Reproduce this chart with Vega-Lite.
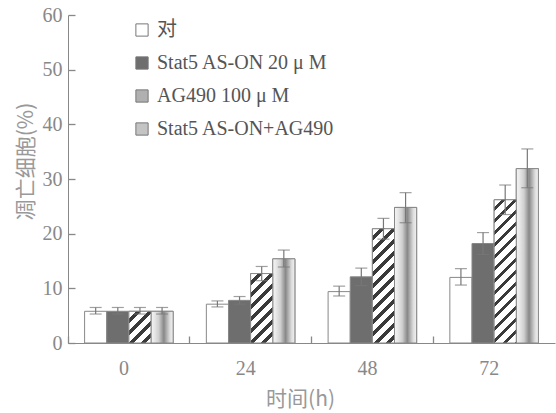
{
  "$schema": "https://vega.github.io/schema/vega-lite/v6.json",
  "width": 487,
  "height": 328,
  "autosize": {"type": "none"},
  "padding": {"left": 68, "top": 15, "right": 1, "bottom": 70},
  "background": "white",
  "config": {
    "view": {"stroke": null},
    "font": "Liberation Serif",
    "axis": {"grid": false, "domainColor": "#888", "tickColor": "#888", "tickWidth": 1.3, "labelColor": "#888", "labelFont": "Liberation Serif", "labelFontSize": 20, "titleFont": "Noto Sans CJK SC", "titleFontSize": 21, "titleFontWeight": "normal", "titleColor": "#999"}
  },
  "data": {"values": [
    {"time": "0", "group": "对", "value": 5.8, "lo": 5.3, "hi": 6.5},
    {"time": "0", "group": "Stat5 AS-ON 20 μ M", "value": 5.8, "lo": 5.3, "hi": 6.5},
    {"time": "0", "group": "AG490 100 μ M", "value": 5.8, "lo": 5.3, "hi": 6.5},
    {"time": "0", "group": "Stat5 AS-ON+AG490", "value": 5.8, "lo": 5.3, "hi": 6.5},
    {"time": "24", "group": "对", "value": 7.1, "lo": 6.6, "hi": 7.7},
    {"time": "24", "group": "Stat5 AS-ON 20 μ M", "value": 7.8, "lo": 7.1, "hi": 8.5},
    {"time": "24", "group": "AG490 100 μ M", "value": 12.7, "lo": 11.4, "hi": 14.0},
    {"time": "24", "group": "Stat5 AS-ON+AG490", "value": 15.4, "lo": 13.9, "hi": 17.0},
    {"time": "48", "group": "对", "value": 9.4, "lo": 8.6, "hi": 10.4},
    {"time": "48", "group": "Stat5 AS-ON 20 μ M", "value": 12.1, "lo": 10.5, "hi": 13.7},
    {"time": "48", "group": "AG490 100 μ M", "value": 20.9, "lo": 19.0, "hi": 22.8},
    {"time": "48", "group": "Stat5 AS-ON+AG490", "value": 24.8, "lo": 22.0, "hi": 27.5},
    {"time": "72", "group": "对", "value": 12.0, "lo": 10.6, "hi": 13.6},
    {"time": "72", "group": "Stat5 AS-ON 20 μ M", "value": 18.2, "lo": 16.2, "hi": 20.2},
    {"time": "72", "group": "AG490 100 μ M", "value": 26.2, "lo": 23.5, "hi": 28.9},
    {"time": "72", "group": "Stat5 AS-ON+AG490", "value": 31.9, "lo": 28.4, "hi": 35.5}
  ]},
  "encoding": {
    "x": {"field": "time", "type": "nominal", "sort": ["0", "24", "48", "72"], "scale": {"paddingInner": 0, "paddingOuter": 0}, "title": "时间(h)",
      "axis": {"labelAngle": 0, "bandPosition": 0, "labelOffset": -5, "tickSize": -7, "labelPadding": 22, "titlePadding": 10, "titleX": 232}},
    "xOffset": {"field": "group", "type": "nominal", "scale": {"domain": ["对", "Stat5 AS-ON 20 μ M", "AG490 100 μ M", "Stat5 AS-ON+AG490"], "paddingInner": 0, "paddingOuter": 0.75}},
    "y": {"field": "value", "type": "quantitative", "scale": {"domain": [0, 60], "nice": false}, "title": "凋亡细胞(%)",
      "axis": {"values": [0, 10, 20, 30, 40, 50, 60], "tickSize": -7, "labelPadding": 13, "titlePadding": 6, "titleY": 146}}
  },
  "layer": [
    {
      "mark": {"type": "bar", "stroke": "#888", "strokeWidth": 1},
      "encoding": {
        "fill": {"field": "group", "type": "nominal",
          "scale": {"domain": ["对", "Stat5 AS-ON 20 μ M", "AG490 100 μ M", "Stat5 AS-ON+AG490"],
            "range": ["#ffffff", "#6e6e6e", "#b0b0b0", "#c4c4c4"]},
          "legend": {"orient": "none", "legendX": 64, "legendY": 5, "title": null, "symbolType": "square", "symbolSize": 150, "symbolStrokeColor": "#777", "symbolStrokeWidth": 1, "labelFontSize": 20, "labelFont": "Liberation Serif, Noto Sans CJK SC", "labelColor": "#555", "labelLimit": 400, "rowPadding": 13, "labelOffset": 5}
        }
      }
    },
    {
      "transform": [{"filter": "datum.group == 'Stat5 AS-ON+AG490'"}],
      "mark": {"type": "bar", "stroke": "#888", "strokeWidth": 1,
        "fill": {"gradient": "linear", "x1": 0, "y1": 0, "x2": 1, "y2": 0, "stops": [
          {"offset": 0, "color": "#f4f4f4"}, {"offset": 0.15, "color": "#e8e8e8"}, {"offset": 0.35, "color": "#cfcfcf"}, {"offset": 0.5, "color": "#a0a0a0"},
          {"offset": 0.58, "color": "#888888"}, {"offset": 0.68, "color": "#a8a8a8"}, {"offset": 0.85, "color": "#dddddd"}, {"offset": 1, "color": "#f2f2f2"}]}},
      "encoding": {}
    },
    {
      "transform": [{"filter": "datum.group == 'AG490 100 μ M' && datum.time == '0'"}],
      "mark": {"type": "bar", "stroke": "#888", "strokeWidth": 1,
        "fill": {"gradient": "linear", "x1": 0, "y1": 0, "x2": 2.486, "y2": 3.566, "stops": [
          {"offset": 0, "color": "#ffffff"}, {"offset": 0.042857, "color": "#ffffff"}, {"offset": 0.042857, "color": "#3a3a3a"}, {"offset": 0.071429, "color": "#3a3a3a"},
          {"offset": 0.071429, "color": "#ffffff"}, {"offset": 0.114286, "color": "#ffffff"}, {"offset": 0.114286, "color": "#3a3a3a"}, {"offset": 0.142857, "color": "#3a3a3a"},
          {"offset": 0.142857, "color": "#ffffff"}, {"offset": 0.185714, "color": "#ffffff"}, {"offset": 0.185714, "color": "#3a3a3a"}, {"offset": 0.214286, "color": "#3a3a3a"},
          {"offset": 0.214286, "color": "#ffffff"}, {"offset": 0.257143, "color": "#ffffff"}, {"offset": 0.257143, "color": "#3a3a3a"}, {"offset": 0.285714, "color": "#3a3a3a"},
          {"offset": 0.285714, "color": "#ffffff"}, {"offset": 0.328571, "color": "#ffffff"}, {"offset": 0.328571, "color": "#3a3a3a"}, {"offset": 0.357143, "color": "#3a3a3a"},
          {"offset": 0.357143, "color": "#ffffff"}, {"offset": 0.4, "color": "#ffffff"}, {"offset": 0.4, "color": "#3a3a3a"}, {"offset": 0.428571, "color": "#3a3a3a"},
          {"offset": 0.428571, "color": "#ffffff"}]}},
      "encoding": {}
    },
    {
      "transform": [{"filter": "datum.group == 'AG490 100 μ M' && datum.time == '24'"}],
      "mark": {"type": "bar", "stroke": "#888", "strokeWidth": 1,
        "fill": {"gradient": "linear", "x1": 0, "y1": 0, "x2": 0.6999, "y2": 2.1979, "stops": [
          {"offset": 0, "color": "#ffffff"}, {"offset": 0.042857, "color": "#ffffff"}, {"offset": 0.042857, "color": "#3a3a3a"}, {"offset": 0.071429, "color": "#3a3a3a"},
          {"offset": 0.071429, "color": "#ffffff"}, {"offset": 0.114286, "color": "#ffffff"}, {"offset": 0.114286, "color": "#3a3a3a"}, {"offset": 0.142857, "color": "#3a3a3a"},
          {"offset": 0.142857, "color": "#ffffff"}, {"offset": 0.185714, "color": "#ffffff"}, {"offset": 0.185714, "color": "#3a3a3a"}, {"offset": 0.214286, "color": "#3a3a3a"},
          {"offset": 0.214286, "color": "#ffffff"}, {"offset": 0.257143, "color": "#ffffff"}, {"offset": 0.257143, "color": "#3a3a3a"}, {"offset": 0.285714, "color": "#3a3a3a"},
          {"offset": 0.285714, "color": "#ffffff"}, {"offset": 0.328571, "color": "#ffffff"}, {"offset": 0.328571, "color": "#3a3a3a"}, {"offset": 0.357143, "color": "#3a3a3a"},
          {"offset": 0.357143, "color": "#ffffff"}, {"offset": 0.4, "color": "#ffffff"}, {"offset": 0.4, "color": "#3a3a3a"}, {"offset": 0.428571, "color": "#3a3a3a"},
          {"offset": 0.428571, "color": "#ffffff"}, {"offset": 0.471429, "color": "#ffffff"}, {"offset": 0.471429, "color": "#3a3a3a"}, {"offset": 0.5, "color": "#3a3a3a"},
          {"offset": 0.5, "color": "#ffffff"}, {"offset": 0.542857, "color": "#ffffff"}, {"offset": 0.542857, "color": "#3a3a3a"}, {"offset": 0.571429, "color": "#3a3a3a"},
          {"offset": 0.571429, "color": "#ffffff"}]}},
      "encoding": {}
    },
    {
      "transform": [{"filter": "datum.group == 'AG490 100 μ M' && datum.time == '48'"}],
      "mark": {"type": "bar", "stroke": "#888", "strokeWidth": 1,
        "fill": {"gradient": "linear", "x1": 0, "y1": 0, "x2": 0.2739, "y2": 1.4168, "stops": [
          {"offset": 0, "color": "#ffffff"}, {"offset": 0.042857, "color": "#ffffff"}, {"offset": 0.042857, "color": "#3a3a3a"}, {"offset": 0.071429, "color": "#3a3a3a"},
          {"offset": 0.071429, "color": "#ffffff"}, {"offset": 0.114286, "color": "#ffffff"}, {"offset": 0.114286, "color": "#3a3a3a"}, {"offset": 0.142857, "color": "#3a3a3a"},
          {"offset": 0.142857, "color": "#ffffff"}, {"offset": 0.185714, "color": "#ffffff"}, {"offset": 0.185714, "color": "#3a3a3a"}, {"offset": 0.214286, "color": "#3a3a3a"},
          {"offset": 0.214286, "color": "#ffffff"}, {"offset": 0.257143, "color": "#ffffff"}, {"offset": 0.257143, "color": "#3a3a3a"}, {"offset": 0.285714, "color": "#3a3a3a"},
          {"offset": 0.285714, "color": "#ffffff"}, {"offset": 0.328571, "color": "#ffffff"}, {"offset": 0.328571, "color": "#3a3a3a"}, {"offset": 0.357143, "color": "#3a3a3a"},
          {"offset": 0.357143, "color": "#ffffff"}, {"offset": 0.4, "color": "#ffffff"}, {"offset": 0.4, "color": "#3a3a3a"}, {"offset": 0.428571, "color": "#3a3a3a"},
          {"offset": 0.428571, "color": "#ffffff"}, {"offset": 0.471429, "color": "#ffffff"}, {"offset": 0.471429, "color": "#3a3a3a"}, {"offset": 0.5, "color": "#3a3a3a"},
          {"offset": 0.5, "color": "#ffffff"}, {"offset": 0.542857, "color": "#ffffff"}, {"offset": 0.542857, "color": "#3a3a3a"}, {"offset": 0.571429, "color": "#3a3a3a"},
          {"offset": 0.571429, "color": "#ffffff"}, {"offset": 0.614286, "color": "#ffffff"}, {"offset": 0.614286, "color": "#3a3a3a"}, {"offset": 0.642857, "color": "#3a3a3a"},
          {"offset": 0.642857, "color": "#ffffff"}, {"offset": 0.685714, "color": "#ffffff"}, {"offset": 0.685714, "color": "#3a3a3a"}, {"offset": 0.714286, "color": "#3a3a3a"},
          {"offset": 0.714286, "color": "#ffffff"}, {"offset": 0.757143, "color": "#ffffff"}, {"offset": 0.757143, "color": "#3a3a3a"}, {"offset": 0.785714, "color": "#3a3a3a"},
          {"offset": 0.785714, "color": "#ffffff"}, {"offset": 0.828571, "color": "#ffffff"}, {"offset": 0.828571, "color": "#3a3a3a"}, {"offset": 0.857143, "color": "#3a3a3a"},
          {"offset": 0.857143, "color": "#ffffff"}]}},
      "encoding": {}
    },
    {
      "transform": [{"filter": "datum.group == 'AG490 100 μ M' && datum.time == '72'"}],
      "mark": {"type": "bar", "stroke": "#888", "strokeWidth": 1,
        "fill": {"gradient": "linear", "x1": 0, "y1": 0, "x2": 0.1768, "y2": 1.1459, "stops": [
          {"offset": 0, "color": "#ffffff"}, {"offset": 0.042857, "color": "#ffffff"}, {"offset": 0.042857, "color": "#3a3a3a"}, {"offset": 0.071429, "color": "#3a3a3a"},
          {"offset": 0.071429, "color": "#ffffff"}, {"offset": 0.114286, "color": "#ffffff"}, {"offset": 0.114286, "color": "#3a3a3a"}, {"offset": 0.142857, "color": "#3a3a3a"},
          {"offset": 0.142857, "color": "#ffffff"}, {"offset": 0.185714, "color": "#ffffff"}, {"offset": 0.185714, "color": "#3a3a3a"}, {"offset": 0.214286, "color": "#3a3a3a"},
          {"offset": 0.214286, "color": "#ffffff"}, {"offset": 0.257143, "color": "#ffffff"}, {"offset": 0.257143, "color": "#3a3a3a"}, {"offset": 0.285714, "color": "#3a3a3a"},
          {"offset": 0.285714, "color": "#ffffff"}, {"offset": 0.328571, "color": "#ffffff"}, {"offset": 0.328571, "color": "#3a3a3a"}, {"offset": 0.357143, "color": "#3a3a3a"},
          {"offset": 0.357143, "color": "#ffffff"}, {"offset": 0.4, "color": "#ffffff"}, {"offset": 0.4, "color": "#3a3a3a"}, {"offset": 0.428571, "color": "#3a3a3a"},
          {"offset": 0.428571, "color": "#ffffff"}, {"offset": 0.471429, "color": "#ffffff"}, {"offset": 0.471429, "color": "#3a3a3a"}, {"offset": 0.5, "color": "#3a3a3a"},
          {"offset": 0.5, "color": "#ffffff"}, {"offset": 0.542857, "color": "#ffffff"}, {"offset": 0.542857, "color": "#3a3a3a"}, {"offset": 0.571429, "color": "#3a3a3a"},
          {"offset": 0.571429, "color": "#ffffff"}, {"offset": 0.614286, "color": "#ffffff"}, {"offset": 0.614286, "color": "#3a3a3a"}, {"offset": 0.642857, "color": "#3a3a3a"},
          {"offset": 0.642857, "color": "#ffffff"}, {"offset": 0.685714, "color": "#ffffff"}, {"offset": 0.685714, "color": "#3a3a3a"}, {"offset": 0.714286, "color": "#3a3a3a"},
          {"offset": 0.714286, "color": "#ffffff"}, {"offset": 0.757143, "color": "#ffffff"}, {"offset": 0.757143, "color": "#3a3a3a"}, {"offset": 0.785714, "color": "#3a3a3a"},
          {"offset": 0.785714, "color": "#ffffff"}, {"offset": 0.828571, "color": "#ffffff"}, {"offset": 0.828571, "color": "#3a3a3a"}, {"offset": 0.857143, "color": "#3a3a3a"},
          {"offset": 0.857143, "color": "#ffffff"}, {"offset": 0.9, "color": "#ffffff"}, {"offset": 0.9, "color": "#3a3a3a"}, {"offset": 0.928571, "color": "#3a3a3a"},
          {"offset": 0.928571, "color": "#ffffff"}, {"offset": 0.971429, "color": "#ffffff"}, {"offset": 0.971429, "color": "#3a3a3a"}, {"offset": 1, "color": "#3a3a3a"}]}},
      "encoding": {}
    },
    {
      "mark": {"type": "rule", "color": "#777", "strokeWidth": 1.2},
      "encoding": {"y": {"field": "lo", "type": "quantitative"}, "y2": {"field": "hi"}}
    },
    {
      "mark": {"type": "tick", "color": "#777", "thickness": 1.2, "size": 12},
      "encoding": {"y": {"field": "hi", "type": "quantitative"}}
    },
    {
      "mark": {"type": "tick", "color": "#777", "thickness": 1.2, "size": 12},
      "encoding": {"y": {"field": "lo", "type": "quantitative"}}
    }
  ]
}
